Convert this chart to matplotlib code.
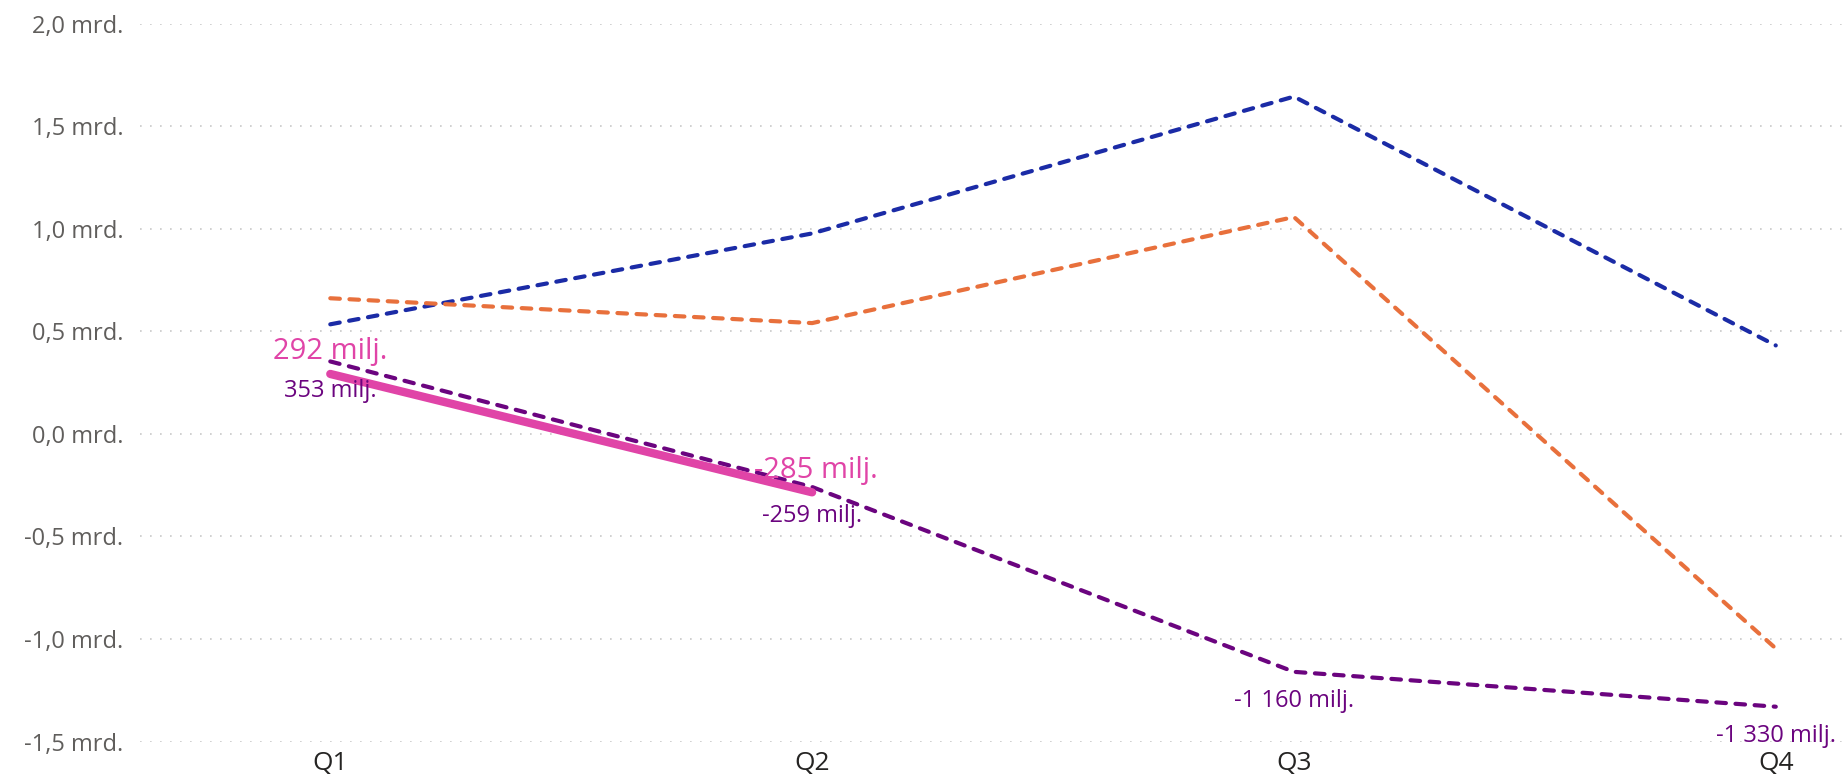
import matplotlib.pyplot as plt
from matplotlib.ticker import FuncFormatter

# Data (mrd.)
quarters = ['Q1', 'Q2', 'Q3', 'Q4']
blue_vals = [0.534, 0.977, 1.644, 0.431]
orange_vals = [0.661, 0.540, 1.057, -1.046]
purple_vals = [0.353, -0.259, -1.160, -1.330]
pink_vals = [0.292, -0.285]
purple_labels = ['353 milj.', '-259 milj.', '-1 160 milj.', '-1 330 milj.']
pink_labels = ['292 milj.', '-285 milj.']

plt.rcParams['font.family'] = ['Open Sans', 'DejaVu Sans']

fig = plt.figure(figsize=(18.49, 7.83), dpi=100)
ax = fig.add_axes([0.0757, 0.0529, 0.9243, 0.917])

x = list(range(len(quarters)))
dash = dict(linestyle=(0, (2.3, 2.3)), dash_capstyle='round', linewidth=3.0)
ax.plot(x, blue_vals, color='#1B2BA6', **dash)
ax.plot(x, orange_vals, color='#E8703C', **dash)
ax.plot(x, purple_vals, color='#6B047F', **dash)
ax.plot(x[:len(pink_vals)], pink_vals, color='#E044A7', linewidth=6,
        solid_capstyle='round')

# data labels
for i, (v, lab) in enumerate(zip(purple_vals, purple_labels)):
    ax.annotate(lab, (i, v), xytext=(0, -21), textcoords='offset points',
                ha='center', va='center', fontsize=17, color='#6B047F')
for i, (v, lab) in enumerate(zip(pink_vals, pink_labels)):
    ax.annotate(lab, (i, v), xytext=(3 * i, 16), textcoords='offset points',
                ha='center', va='center', fontsize=21, color='#E044A7')

ax.set_xlim(-0.395, 3.152)
ax.set_ylim(-1.5, 2.0)
ax.set_yticks([-1.5, -1.0, -0.5, 0.0, 0.5, 1.0, 1.5, 2.0])
ax.yaxis.set_major_formatter(FuncFormatter(lambda v, p: f'{v:.1f}'.replace('.', ',') + ' mrd.'))
ax.set_xticks(x)
ax.set_xticklabels(quarters)
ax.tick_params(axis='y', length=0, pad=12, labelsize=17, labelcolor='#605E5C')
ax.tick_params(axis='x', length=0, pad=7, labelsize=19, labelcolor='#252423')
ax.grid(axis='y', color='#C8C8C8', linestyle=(0, (1, 5)), linewidth=1.2)
for s in ax.spines.values():
    s.set_visible(False)

fig.savefig('out.png', dpi=100)
